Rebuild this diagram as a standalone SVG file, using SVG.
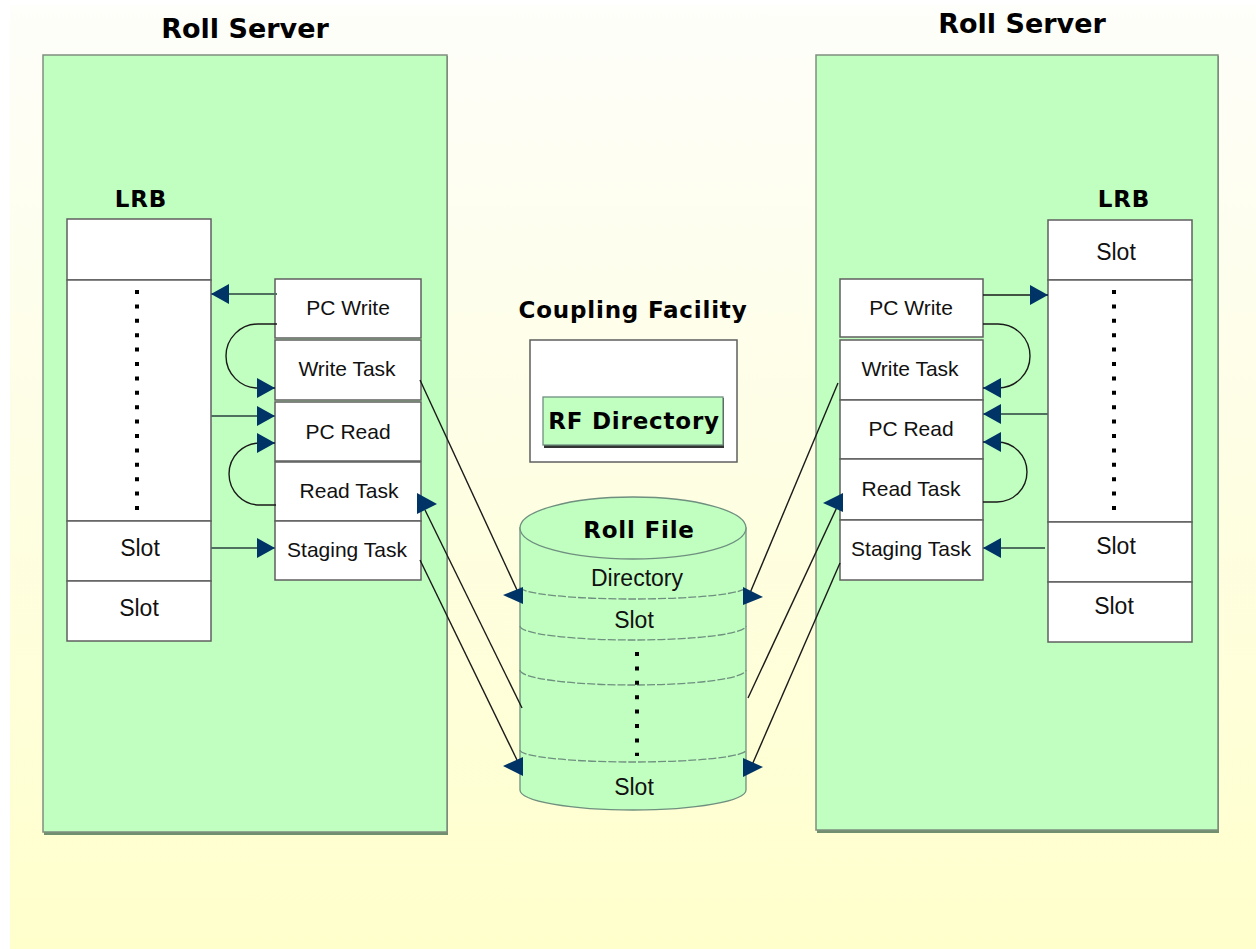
<svg xmlns="http://www.w3.org/2000/svg" width="1256" height="949" viewBox="0 0 1256 949">
<defs>
<linearGradient id="bg" x1="0" y1="0" x2="0" y2="1">
<stop offset="0" stop-color="#fefefa"/>
<stop offset="0.45" stop-color="#fefee6"/>
<stop offset="1" stop-color="#ffffcc"/>
</linearGradient>
<marker id="ah" markerUnits="userSpaceOnUse" markerWidth="20" markerHeight="22" refX="18" refY="10" orient="auto">
<path d="M0,0 L18,10 L0,20 Z" fill="#003366"/>
</marker>
<style>
.server{fill:#c0ffc0;stroke:#7f8f7f;stroke-width:1.5}
.shadow{fill:#6f8f6f}
.box{fill:#ffffff;stroke:#5f5f5f;stroke-width:1.5}
.title{font-family:"DejaVu Sans",Verdana,sans-serif;font-weight:bold;font-size:27px;fill:#000;text-anchor:middle}
.bold{font-family:"DejaVu Sans",Verdana,sans-serif;font-weight:bold;font-size:23px;letter-spacing:0.8px;fill:#000;text-anchor:middle}
.lbl{font-family:"Liberation Sans",Arial,sans-serif;font-size:21px;fill:#111;text-anchor:middle}
.slot{font-family:"Liberation Sans",Arial,sans-serif;font-size:23px;fill:#111;text-anchor:middle}
.dots{stroke:#000;stroke-width:4;stroke-dasharray:4 10.4;fill:none}
.h{stroke:#4f6f5f;stroke-width:2;fill:none}
.d{stroke:#1a1a1a;stroke-width:1.4;fill:none}
.head{fill:#003366}
.cyl{fill:#c0ffc0;stroke:#6f8f7f;stroke-width:1.3}
.div{fill:none;stroke:#6f8f7f;stroke-width:1.3;stroke-dasharray:8 2}
</style>
</defs>
<rect x="0" y="0" width="1256" height="949" fill="#ffffff"/>
<rect x="10" y="5" width="1246" height="944" fill="url(#bg)"/>

<g id="left-server">
<rect class="shadow" x="44" y="56" width="404" height="779"/>
<rect class="server" x="43" y="55" width="404" height="777"/>
<text class="title" x="245" y="38">Roll Server</text>
</g>
<g id="right-server">
<rect class="shadow" x="817" y="56" width="402" height="777"/>
<rect class="server" x="816" y="55" width="402" height="775"/>
<text class="title" x="1022" y="33">Roll Server</text>
</g>

<g id="left-lrb">
<text class="bold" x="141" y="207">LRB</text>
<rect class="box" x="67" y="219" width="144" height="61"/>
<rect class="box" x="67" y="280" width="144" height="241"/>
<line class="dots" x1="137" y1="290" x2="137" y2="516"/>
<rect class="box" x="67" y="521" width="144" height="60"/>
<text class="slot" x="140" y="556">Slot</text>
<rect class="box" x="67" y="581" width="144" height="60"/>
<text class="slot" x="139" y="616">Slot</text>
</g>

<g id="left-tasks">
<rect class="box" x="275" y="279" width="146" height="59"/>
<text class="lbl" x="348" y="315">PC Write</text>
<rect class="box" x="275" y="340" width="146" height="60"/>
<text class="lbl" x="347" y="376">Write Task</text>
<rect class="box" x="275" y="402" width="146" height="59"/>
<text class="lbl" x="348" y="439">PC Read</text>
<rect class="box" x="275" y="462" width="146" height="59"/>
<text class="lbl" x="349" y="498">Read Task</text>
<rect class="box" x="275" y="521" width="146" height="59"/>
<text class="lbl" x="347" y="557">Staging Task</text>
</g>

<g id="right-lrb">
<text class="bold" x="1124" y="207">LRB</text>
<rect class="box" x="1048" y="220" width="144" height="60"/>
<text class="slot" x="1116" y="260">Slot</text>
<rect class="box" x="1048" y="280" width="144" height="242"/>
<line class="dots" x1="1114" y1="290" x2="1114" y2="516"/>
<rect class="box" x="1048" y="522" width="144" height="60"/>
<text class="slot" x="1116" y="554">Slot</text>
<rect class="box" x="1048" y="582" width="144" height="60"/>
<text class="slot" x="1114" y="614">Slot</text>
</g>

<g id="right-tasks">
<rect class="box" x="840" y="279" width="143" height="58"/>
<text class="lbl" x="911" y="315">PC Write</text>
<rect class="box" x="840" y="340" width="143" height="60"/>
<text class="lbl" x="910" y="376">Write Task</text>
<rect class="box" x="840" y="400" width="143" height="59"/>
<text class="lbl" x="911" y="436">PC Read</text>
<rect class="box" x="840" y="459" width="143" height="61"/>
<text class="lbl" x="911" y="496">Read Task</text>
<rect class="box" x="840" y="520" width="143" height="60"/>
<text class="lbl" x="911" y="556">Staging Task</text>
</g>

<g id="coupling-facility">
<text class="bold" x="633" y="318">Coupling Facility</text>
<rect class="box" x="530" y="340" width="207" height="122"/>
<rect x="544" y="398" width="180" height="50" fill="#333"/>
<rect x="543" y="397" width="180" height="48" fill="#c0ffc0" stroke="#6f8f7f" stroke-width="1.3"/>
<text class="bold" x="634" y="429">RF Directory</text>
</g>

<g id="roll-file">
<path class="cyl" d="M520,528 L520,790 A113,20 0 0,0 746,790 L746,528 Z"/>
<ellipse class="cyl" cx="633" cy="528" rx="113" ry="31"/>
<path class="div" d="M520,587 A113,12 0 0,0 746,587"/>
<path class="div" d="M520,626 A113,14 0 0,0 746,626"/>
<path class="div" d="M520,670 A113,15 0 0,0 746,670"/>
<path class="div" d="M520,750 A113,12 0 0,0 746,750"/>
<text class="bold" x="639" y="538">Roll File</text>
<text class="slot" x="637" y="586">Directory</text>
<text class="slot" x="634" y="628">Slot</text>
<line class="dots" x1="637" y1="652" x2="637" y2="756"/>
<text class="slot" x="634" y="795">Slot</text>
</g>

<g id="connectors">
<line class="h" x1="277" y1="294" x2="211" y2="294" marker-end="url(#ah)"/>
<path class="d" d="M277,324 L258,324 A32,32 0 0,0 258,388 L275,388" marker-end="url(#ah)"/>
<line class="h" x1="211" y1="416" x2="275" y2="416" marker-end="url(#ah)"/>
<path class="d" d="M276,505 L260,505 A31,31 0 0,1 260,443 L275,443" marker-end="url(#ah)"/>
<line class="h" x1="211" y1="548" x2="275" y2="548" marker-end="url(#ah)"/>

<line class="d" x1="420" y1="380" x2="517" y2="590"/>
<polygon class="head" points="523,587 523,604 503,595"/>
<line class="d" x1="522" y1="708" x2="425" y2="510"/>
<polygon class="head" points="417,493 417,514 437,504"/>
<line class="d" x1="420" y1="560" x2="517" y2="760"/>
<polygon class="head" points="523,757 523,776 503,766"/>

<line class="d" x1="983" y1="295" x2="1048" y2="295" marker-end="url(#ah)"/>
<path class="d" d="M983,324 L998,324 A32,32 0 0,1 998,388 L983,388" marker-end="url(#ah)"/>
<line class="h" x1="1048" y1="414" x2="983" y2="414" marker-end="url(#ah)"/>
<path class="d" d="M983,502 L997,502 A30,30 0 0,0 997,442 L983,442" marker-end="url(#ah)"/>
<line class="h" x1="1045" y1="548" x2="983" y2="548" marker-end="url(#ah)"/>

<line class="d" x1="838" y1="383" x2="750" y2="593"/>
<polygon class="head" points="743,587 743,605 763,597"/>
<line class="d" x1="748" y1="698" x2="838" y2="505"/>
<polygon class="head" points="843,493 843,512 823,503"/>
<line class="d" x1="840" y1="563" x2="752" y2="765"/>
<polygon class="head" points="743,758 743,777 763,767"/>
</g>
</svg>
